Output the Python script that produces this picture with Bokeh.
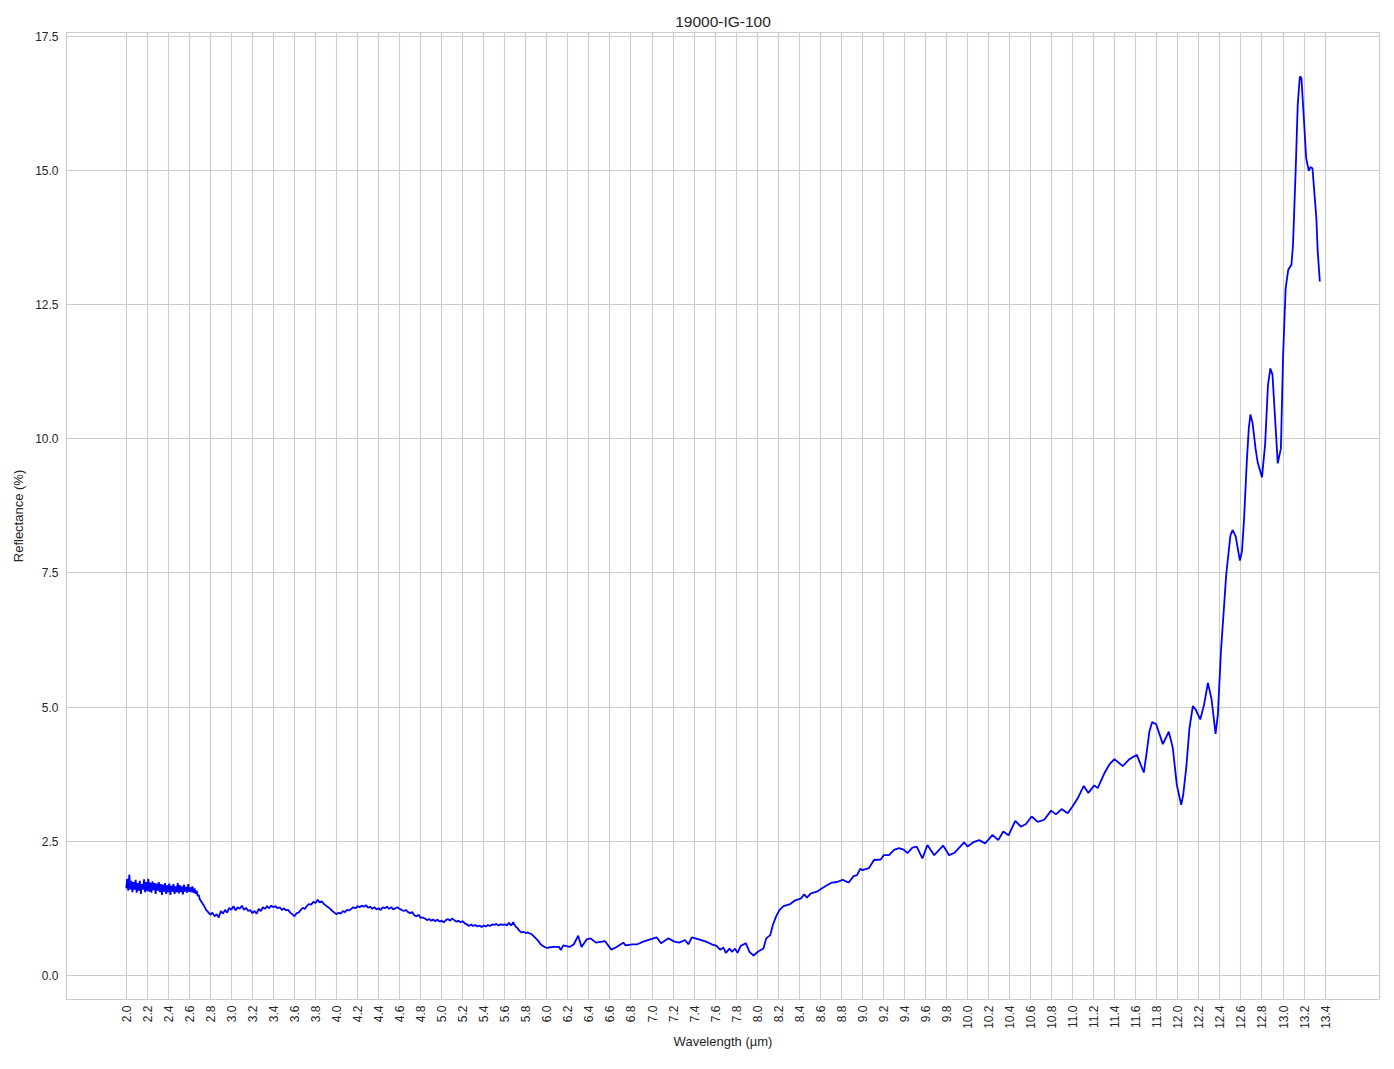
import math
from bokeh.plotting import figure
from bokeh.models import Range1d, FixedTicker, PrintfTickFormatter
from bokeh.embed import file_html
from bokeh.resources import INLINE

# ---- data ----
wl_noisy = [2.00, 2.01, 2.02, 2.03, 2.04, 2.05, 2.06, 2.07, 2.08, 2.09,
            2.10, 2.11, 2.12, 2.13, 2.14, 2.15, 2.16, 2.17, 2.18, 2.19,
            2.20, 2.21, 2.22, 2.23, 2.24, 2.25, 2.26, 2.27, 2.28, 2.29,
            2.30, 2.31, 2.32, 2.33, 2.34, 2.35, 2.36, 2.37, 2.38, 2.39,
            2.40, 2.41, 2.42, 2.43, 2.44, 2.45, 2.46, 2.47, 2.48, 2.49,
            2.50, 2.51, 2.52, 2.53, 2.54, 2.55, 2.56, 2.57, 2.58, 2.59,
            2.60, 2.61, 2.62, 2.63, 2.64, 2.65, 2.66, 2.67, 2.68, 2.69, 2.70]
refl_noisy = [1.62, 1.80, 1.58, 1.88, 1.60, 1.76, 1.55, 1.74, 1.60, 1.78,
              1.54, 1.72, 1.58, 1.76, 1.52, 1.70, 1.60, 1.79, 1.55, 1.74,
              1.57, 1.80, 1.56, 1.73, 1.54, 1.75, 1.59, 1.72, 1.52, 1.71,
              1.58, 1.74, 1.55, 1.70, 1.50, 1.69, 1.56, 1.72, 1.52, 1.68,
              1.55, 1.71, 1.50, 1.67, 1.56, 1.70, 1.52, 1.66, 1.55, 1.72,
              1.53, 1.68, 1.55, 1.66, 1.51, 1.69, 1.56, 1.65, 1.54, 1.70,
              1.56, 1.64, 1.55, 1.66, 1.54, 1.62, 1.52, 1.58, 1.48, 1.50, 1.42]

wl_mid = [2.72, 2.74, 2.76, 2.78, 2.80, 2.82, 2.84, 2.86, 2.88, 2.90,
          2.92, 2.94, 2.96, 2.98, 3.00, 3.02, 3.04, 3.06, 3.08, 3.10,
          3.12, 3.14, 3.16, 3.18, 3.20, 3.22, 3.24, 3.26, 3.28, 3.30,
          3.32, 3.34, 3.36, 3.38, 3.40, 3.42, 3.44, 3.46, 3.48, 3.50,
          3.52, 3.54, 3.56, 3.58, 3.60, 3.62, 3.64, 3.66, 3.68, 3.70,
          3.72, 3.74, 3.76, 3.78, 3.80, 3.82, 3.84, 3.86, 3.88, 3.90,
          3.92, 3.94, 3.96, 3.98, 4.00, 4.02, 4.04, 4.06, 4.08, 4.10,
          4.12, 4.14, 4.16, 4.18, 4.20, 4.22, 4.24, 4.26, 4.28, 4.30,
          4.32, 4.34, 4.36, 4.38, 4.40, 4.42, 4.44, 4.46, 4.48, 4.50,
          4.52, 4.54, 4.56, 4.58, 4.60, 4.62, 4.64, 4.66, 4.68, 4.70,
          4.72, 4.74, 4.76, 4.78, 4.80, 4.82, 4.84, 4.86, 4.88, 4.90,
          4.92, 4.94, 4.96, 4.98, 5.00, 5.02, 5.04, 5.06, 5.08, 5.10,
          5.12, 5.14, 5.16, 5.18, 5.20, 5.22, 5.24, 5.26, 5.28, 5.30,
          5.32, 5.34, 5.36, 5.38, 5.40, 5.42, 5.44, 5.46, 5.48, 5.50,
          5.52, 5.54, 5.56, 5.58, 5.60, 5.62, 5.64, 5.66, 5.68, 5.70,
          5.72, 5.74, 5.76, 5.78, 5.80, 5.82, 5.84, 5.86, 5.88, 5.90,
          5.92, 5.94, 5.96, 5.98]
refl_mid = [1.36, 1.30, 1.22, 1.18, 1.13, 1.17, 1.10, 1.14, 1.08, 1.20,
            1.15, 1.22, 1.17, 1.26, 1.22, 1.29, 1.21, 1.27, 1.24, 1.30,
            1.22, 1.26, 1.20, 1.22, 1.16, 1.20, 1.15, 1.24, 1.20, 1.27,
            1.24, 1.29, 1.25, 1.30, 1.27, 1.29, 1.25, 1.27, 1.22, 1.25,
            1.21, 1.22, 1.17, 1.14, 1.10, 1.16, 1.17, 1.22, 1.26, 1.24,
            1.30, 1.33, 1.32, 1.37, 1.35, 1.41, 1.36, 1.38, 1.33, 1.30,
            1.27, 1.24, 1.20, 1.17, 1.14, 1.17, 1.15, 1.20, 1.18, 1.22,
            1.21, 1.24, 1.27, 1.25, 1.29, 1.27, 1.30, 1.28, 1.31, 1.26,
            1.28, 1.24, 1.27, 1.23, 1.25, 1.22, 1.27, 1.25, 1.28, 1.24,
            1.27, 1.23, 1.25, 1.27, 1.24, 1.22, 1.20, 1.22, 1.18, 1.16,
            1.18, 1.12, 1.10, 1.13, 1.07, 1.08, 1.06, 1.03, 1.05, 1.02,
            1.04, 1.01, 1.04, 1.00, 1.02, 0.99, 1.03, 1.05, 1.02, 1.06,
            1.03, 1.00, 1.02, 0.99, 1.01, 0.97, 0.95, 0.92, 0.95, 0.92,
            0.94, 0.91, 0.93, 0.90, 0.93, 0.91, 0.94, 0.92, 0.95, 0.94,
            0.96, 0.93, 0.95, 0.94, 0.95, 0.93, 0.98, 0.93, 0.99, 0.92,
            0.88, 0.83, 0.80, 0.81, 0.79, 0.80, 0.78, 0.76, 0.72, 0.68,
            0.64, 0.58, 0.55, 0.53]

wl_low = [6.00, 6.016, 6.067, 6.117, 6.133, 6.156, 6.216, 6.257, 6.298, 6.33,
          6.378, 6.416, 6.467, 6.552, 6.613, 6.663, 6.727, 6.749, 6.813, 6.86,
          6.917, 7.013, 7.044, 7.086, 7.156, 7.213, 7.26, 7.314, 7.346, 7.378,
          7.413, 7.514, 7.568, 7.613, 7.648, 7.679, 7.702, 7.737, 7.759, 7.79,
          7.813, 7.844, 7.892, 7.927, 7.965, 8.013, 8.06, 8.086, 8.124, 8.149,
          8.18, 8.213, 8.251, 8.314, 8.362, 8.413, 8.448, 8.473, 8.511, 8.568,
          8.613, 8.663, 8.711, 8.759, 8.813, 8.87, 8.917, 8.949, 8.981]
refl_low = [0.51, 0.52, 0.53, 0.53, 0.47, 0.56, 0.53, 0.58, 0.74, 0.53,
            0.67, 0.69, 0.61, 0.64, 0.48, 0.53, 0.61, 0.56, 0.58, 0.58,
            0.63, 0.69, 0.71, 0.60, 0.69, 0.63, 0.61, 0.66, 0.58, 0.71,
            0.69, 0.63, 0.58, 0.55, 0.48, 0.52, 0.42, 0.50, 0.44, 0.50,
            0.42, 0.55, 0.60, 0.44, 0.37, 0.45, 0.50, 0.69, 0.75, 0.94,
            1.10, 1.22, 1.29, 1.33, 1.40, 1.43, 1.51, 1.45, 1.53, 1.56,
            1.62, 1.68, 1.73, 1.74, 1.78, 1.73, 1.85, 1.87, 1.99]

wl_rise = [9.00, 9.063, 9.111, 9.175, 9.203, 9.254, 9.302, 9.349, 9.397, 9.429,
           9.476, 9.517, 9.571, 9.619, 9.683, 9.768, 9.825, 9.873, 9.968, 10.0,
           10.063, 10.111, 10.168, 10.238, 10.292, 10.34, 10.39, 10.454, 10.508, 10.556,
           10.61, 10.667, 10.73, 10.794, 10.841, 10.895, 10.952, 11.0, 11.048, 11.105,
           11.149, 11.206, 11.238, 11.302, 11.349, 11.397, 11.476, 11.54, 11.61, 11.676,
           11.70, 11.73, 11.756, 11.794, 11.857, 11.914, 11.952, 11.99, 12.032, 12.05,
           12.08, 12.11, 12.143, 12.17, 12.213, 12.25, 12.286, 12.32, 12.359, 12.38,
           12.41, 12.46, 12.50, 12.52, 12.55, 12.59, 12.61, 12.63, 12.657, 12.675,
           12.69, 12.71, 12.74, 12.76, 12.80, 12.83, 12.857, 12.88, 12.90, 12.93,
           12.95, 12.98, 13.0, 13.025, 13.05, 13.08, 13.095, 13.12, 13.14, 13.16,
           13.175, 13.2, 13.22, 13.245, 13.26, 13.28, 13.29, 13.317, 13.33, 13.35]
refl_rise = [1.96, 2.00, 2.15, 2.16, 2.24, 2.24, 2.34, 2.37, 2.34, 2.28,
             2.38, 2.40, 2.18, 2.43, 2.24, 2.42, 2.24, 2.28, 2.48, 2.40,
             2.49, 2.52, 2.46, 2.62, 2.52, 2.68, 2.61, 2.88, 2.77, 2.82,
             2.96, 2.86, 2.90, 3.07, 3.00, 3.10, 3.02, 3.15, 3.30, 3.53,
             3.40, 3.54, 3.49, 3.77, 3.93, 4.03, 3.90, 4.03, 4.11, 3.78,
             4.10, 4.55, 4.72, 4.68, 4.31, 4.54, 4.24, 3.55, 3.18, 3.35,
             3.87, 4.60, 5.02, 4.95, 4.77, 5.05, 5.45, 5.15, 4.50, 4.85,
             6.04, 7.47, 8.20, 8.30, 8.18, 7.73, 7.90, 8.52, 9.63, 10.20,
             10.45, 10.30, 9.80, 9.55, 9.28, 9.90, 11.00, 11.31, 11.19, 10.20,
             9.54, 9.82, 11.50, 12.80, 13.15, 13.24, 13.61, 14.98, 16.22, 16.75,
             16.72, 15.91, 15.23, 14.99, 15.06, 15.04, 14.79, 14.11, 13.49, 12.93]

x_ticks = [2.0, 2.2, 2.4, 2.6, 2.8, 3.0, 3.2, 3.4, 3.6, 3.8, 4.0, 4.2, 4.4, 4.6,
           4.8, 5.0, 5.2, 5.4, 5.6, 5.8, 6.0, 6.2, 6.4, 6.6, 6.8, 7.0, 7.2, 7.4,
           7.6, 7.8, 8.0, 8.2, 8.4, 8.6, 8.8, 9.0, 9.2, 9.4, 9.6, 9.8, 10.0, 10.2,
           10.4, 10.6, 10.8, 11.0, 11.2, 11.4, 11.6, 11.8, 12.0, 12.2, 12.4, 12.6,
           12.8, 13.0, 13.2, 13.4]
y_ticks = [0.0, 2.5, 5.0, 7.5, 10.0, 12.5, 15.0, 17.5]

title_text = "19000-IG-100"
x_label = "Wavelength (µm)"
y_label = "Reflectance (%)"

wl = wl_noisy + wl_mid + wl_low + wl_rise
refl = refl_noisy + refl_mid + refl_low + refl_rise

# matplotlib-like 5% margins
xmin, xmax = min(wl), max(wl)
ymin, ymax = min(refl), max(refl)
xm = 0.05 * (xmax - xmin)
ym = 0.05 * (ymax - ymin)

FONT = "Liberation Sans"
TXT = "#262626"
GRID = "#cccccc"

p = figure(width=1386, height=1053, output_backend="svg", toolbar_location=None,
           x_range=Range1d(xmin - xm, xmax + xm), y_range=Range1d(ymin - ym, ymax + ym),
           min_border_left=66, min_border_right=7, min_border_top=32, min_border_bottom=54,
           background_fill_color="white", border_fill_color="white")

p.title.text = title_text
p.title.align = "center"
p.title.text_font = FONT
p.title.text_font_size = "15.5px"
p.title.text_font_style = "normal"
p.title.text_color = TXT
p.title.standoff = 6
p.title.offset = 0

p.outline_line_color = GRID
p.outline_line_width = 1.2

p.line(wl, refl, line_color="#0000ff", line_width=1.8)

p.xaxis.ticker = FixedTicker(ticks=x_ticks)
p.yaxis.ticker = FixedTicker(ticks=y_ticks)
p.xaxis.formatter = PrintfTickFormatter(format="%.1f")
p.yaxis.formatter = PrintfTickFormatter(format="%.1f")
p.xaxis.major_label_orientation = math.pi / 2

for ax in (p.xaxis[0], p.yaxis[0]):
    ax.axis_line_color = None
    ax.major_tick_line_color = None
    ax.minor_tick_line_color = None
    ax.major_tick_in = 0
    ax.major_tick_out = 0
    ax.major_label_text_font = FONT
    ax.major_label_text_font_size = "12px"
    ax.major_label_text_color = TXT
    ax.axis_label_text_font = FONT
    ax.axis_label_text_font_size = "13px"
    ax.axis_label_text_font_style = "normal"
    ax.axis_label_text_color = TXT

p.xaxis.major_label_standoff = 6
p.yaxis.major_label_standoff = 8
p.xaxis.axis_label = x_label
p.yaxis.axis_label = y_label
p.xaxis.axis_label_standoff = 2
p.yaxis.axis_label_standoff = 6

p.xgrid.ticker = FixedTicker(ticks=x_ticks)
p.ygrid.ticker = FixedTicker(ticks=y_ticks)
p.grid.grid_line_color = GRID
p.grid.grid_line_width = 1.1

open("out.html", "w").write(file_html(p, INLINE))
